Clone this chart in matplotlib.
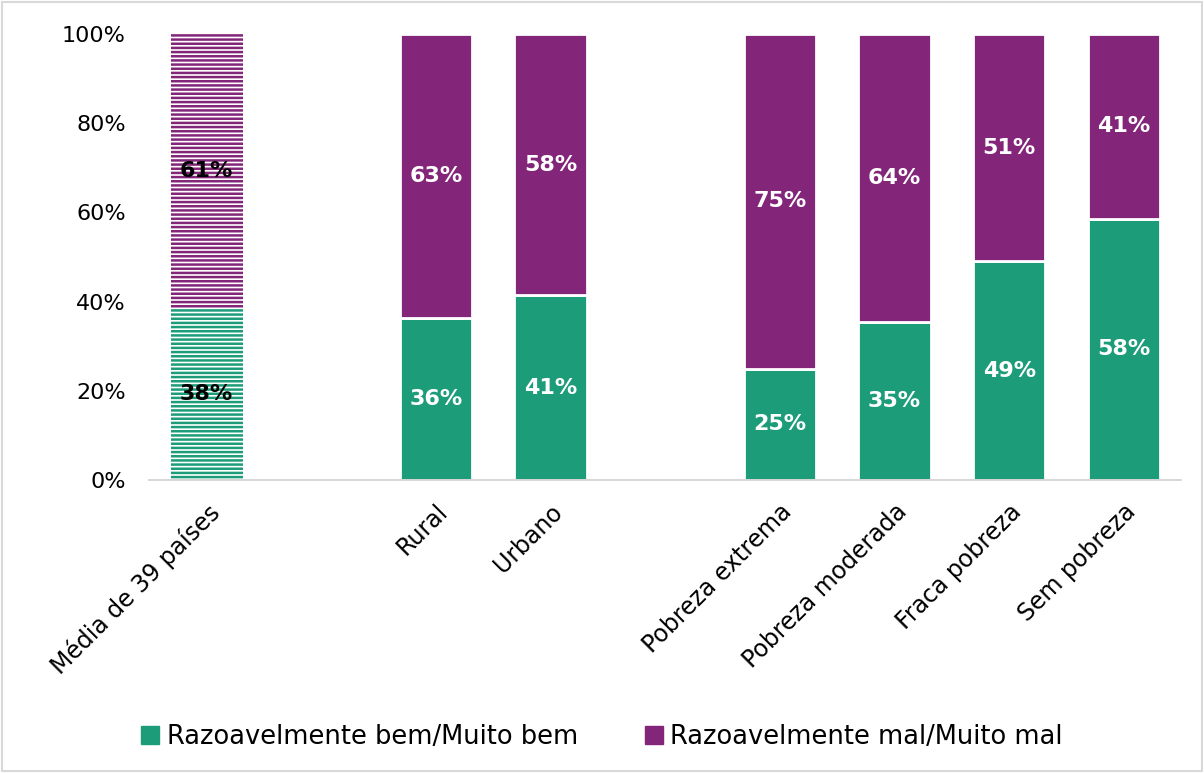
import numpy as np
import matplotlib.pyplot as plt
from matplotlib.patches import Rectangle

# data
categories = ["Média de 39 países", "", "Rural", "Urbano", "",
              "Pobreza extrema", "Pobreza moderada", "Fraca pobreza", "Sem pobreza"]
bem = [38, 0, 36, 41, 0, 25, 35, 49, 58]
mal = [61, 0, 63, 58, 0, 75, 64, 51, 41]
series_names = ["Razoavelmente bem/Muito bem", "Razoavelmente mal/Muito mal"]

green = "#1d9c7a"
purple = "#83267a"

plt.rcParams['font.family'] = ['DejaVu Sans']
plt.rcParams['hatch.linewidth'] = 1.8

fig = plt.figure(figsize=(12.04, 7.73), dpi=100)
ax = fig.add_axes([0.124, 0.379, 0.857, 0.577])

x = np.arange(len(categories))
bem = np.array(bem, dtype=float)
mal = np.array(mal, dtype=float)
tot = bem + mal
tot[tot == 0] = 1
bem_p = bem / tot * 100
mal_p = mal / tot * 100
w = 0.63

for i in range(len(categories)):
    if bem[i] + mal[i] == 0:
        continue
    if i == 0:
        # hatched average bar
        ax.bar(x[i], bem_p[i], w, color="white", edgecolor=green, hatch="----", linewidth=0)
        ax.bar(x[i], mal_p[i], w, bottom=bem_p[i], color="white", edgecolor=purple,
               hatch="----", linewidth=0)
        tc = "black"
    else:
        ax.bar(x[i], bem_p[i], w, color=green, edgecolor="white", linewidth=2)
        ax.bar(x[i], mal_p[i], w, bottom=bem_p[i], color=purple, edgecolor="white", linewidth=2)
        tc = "white"
    ax.text(x[i], bem_p[i] / 2, f"{int(bem[i])}%", ha="center", va="center",
            color=tc, fontsize=16, fontweight="bold")
    ax.text(x[i], bem_p[i] + mal_p[i] / 2, f"{int(mal[i])}%", ha="center", va="center",
            color=tc, fontsize=16, fontweight="bold")

ax.set_xlim(-0.5, len(categories) - 0.5)
ax.set_ylim(0, 100)
ax.set_yticks(np.arange(0, 101, 20))
ax.set_yticklabels([f"{v}%" for v in range(0, 101, 20)], fontsize=16)
ax.set_xticks(x)
ax.set_xticklabels(categories, rotation=45, ha="right", rotation_mode="anchor", fontsize=17)
ax.tick_params(axis="y", length=0, pad=17)
ax.tick_params(axis="x", length=0, pad=14)
for s in ["top", "right", "left"]:
    ax.spines[s].set_visible(False)
ax.spines["bottom"].set_color("#d0d0d0")
ax.spines["bottom"].set_linewidth(1.2)

handles = [Rectangle((0, 0), 1, 1, color=green), Rectangle((0, 0), 1, 1, color=purple)]
fig.legend(handles, series_names, loc="lower center", ncol=2, frameon=False,
           fontsize=18.5, bbox_to_anchor=(0.5, 0.0), handlelength=0.7, handleheight=0.7,
           handletextpad=0.3, columnspacing=2.6)

fig.patches.append(Rectangle((0.002, 0.002), 0.996, 0.996, transform=fig.transFigure,
                             fill=False, edgecolor="#d9d9d9", linewidth=1.5))

fig.savefig("out.png", dpi=100)
